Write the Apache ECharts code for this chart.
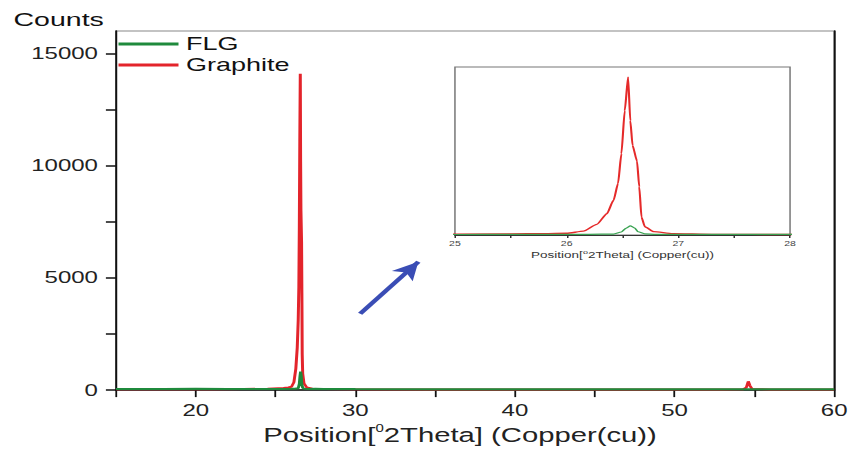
<!DOCTYPE html>
<html>
<head>
<meta charset="utf-8">
<script src="https://cdn.jsdelivr.net/npm/echarts@6/dist/echarts.min.js"></script>
<style>
  html, body { margin: 0; padding: 0; background: #fff; overflow: hidden; }
  /* the figure is drawn at 568px wide and widened 1.5x, giving 852px */
  #chart { width: 568px; height: 450px; transform: scaleX(1.5); transform-origin: 0 0; }
</style>
</head>
<body>
<div id="chart"></div>
<script>
// XRD scan: 2θ positions (degrees) and intensities (counts)
const graphiteTheta = [15, 17, 19, 21, 23, 24.5, 25.5, 25.8, 26.0, 26.15, 26.27, 26.36, 26.42, 26.46, 26.49, 26.52, 26.55, 26.57, 26.59, 26.63, 26.65, 26.67, 26.70, 26.78, 26.95, 27.3, 28, 30, 35, 40, 45, 50, 53, 54.3, 54.5, 54.62, 54.72, 54.85, 56, 60];
const graphiteCounts = [40, 35, 45, 40, 50, 60, 90, 120, 150, 350, 950, 1900, 3100, 4600, 7250, 11100, 14100, 10200, 8000, 6600, 4300, 1600, 740, 300, 120, 60, 45, 35, 30, 30, 25, 25, 30, 40, 120, 390, 200, 50, 25, 25];

const flgTheta = [15, 18, 20, 22, 24, 25, 25.5, 26.0, 26.2, 26.42, 26.49, 26.53, 26.57, 26.61, 26.64, 26.70, 26.8, 27.0, 27.5, 28, 30, 35, 40, 45, 50, 55, 60];
const flgCounts = [50, 45, 55, 45, 50, 45, 50, 55, 60, 80, 270, 600, 820, 620, 290, 100, 60, 50, 55, 50, 45, 40, 40, 35, 35, 35, 35];

// Tick positions and labels
const mainXTicks = [15, 20, 25, 30, 35, 40, 45, 50, 55, 60];
const mainXLabels = [20, 30, 40, 50, 60];
const mainYTicks = [0, 2500, 5000, 7500, 10000, 12500, 15000];
const mainYLabels = [0, 5000, 10000, 15000];
const insetXTicks = [25, 25.5, 26, 26.5, 27, 27.5, 28];
const insetXLabels = [25, 26, 27, 28];

const pairs = (xs, ys) => xs.map((x, i) => [x, ys[i]]);
const graphiteData = pairs(graphiteTheta, graphiteCounts);
const flgData = pairs(flgTheta, flgCounts);

const FONT = 'Liberation Sans, Arial, sans-serif';
const RED = '#e3242b';
const GREEN = '#1f8a3c';

const chart = echarts.init(document.getElementById('chart'), null, { renderer: 'svg', width: 568, height: 450 });

chart.setOption({
  animation: false,
  backgroundColor: '#ffffff',
  textStyle: { fontFamily: FONT },
  title: {
    text: 'Counts',
    left: 4, top: 5,
    textStyle: { fontFamily: FONT, fontSize: 19, fontWeight: 'normal', color: '#111' }
  },
  legend: {
    data: ['FLG', 'Graphite'],
    orient: 'vertical',
    left: 74, top: 30,
    icon: 'rect',
    itemWidth: 40, itemHeight: 3,
    itemGap: 3,
    textStyle: { fontFamily: FONT, fontSize: 18, color: '#111' }
  },
  grid: [
    { left: 77.3, right: 10, top: 31, bottom: 54, show: true, borderColor: '#888', borderWidth: 1 },
    { left: 303.3, right: 41.3, top: 67, bottom: 215, show: true, borderColor: '#777', borderWidth: 1, backgroundColor: '#fff', z: 5 }
  ],
  xAxis: [
    {
      gridIndex: 0, type: 'value', min: 15, max: 60,
      axisLine: { show: true, onZero: false, lineStyle: { color: '#111', width: 1.5 } },
      axisTick: { show: true, customValues: mainXTicks, length: 7, lineStyle: { color: '#111', width: 1.2 } },
      axisLabel: { customValues: mainXLabels, fontSize: 16, color: '#222', margin: 12, fontFamily: FONT },
      splitLine: { show: false },
      name: '{a|Position[}{s|0}{a|2Theta] (Copper(cu))}',
      nameLocation: 'middle', nameGap: 31,
      nameTextStyle: {
        padding: [0, 20, 0, 0],
        rich: {
          a: { fontSize: 19.5, color: '#222', fontFamily: FONT, lineHeight: 24 },
          s: { fontSize: 10, color: '#222', fontFamily: FONT, lineHeight: 14, verticalAlign: 'top' }
        }
      }
    },
    {
      gridIndex: 1, type: 'value', min: 25, max: 28,
      axisLine: { show: true, onZero: false, lineStyle: { color: '#333', width: 1 } },
      axisTick: { show: true, customValues: insetXTicks, length: 3, lineStyle: { color: '#333' } },
      axisLabel: { customValues: insetXLabels, fontSize: 7, color: '#444', margin: 5, fontFamily: FONT },
      splitLine: { show: false },
      name: '{a|Position[}{s|o}{a|2Theta] (Copper(cu))}',
      nameLocation: 'middle', nameGap: 14,
      nameTextStyle: {
        rich: {
          a: { fontSize: 9, color: '#333', fontFamily: FONT, lineHeight: 11 },
          s: { fontSize: 6, color: '#333', fontFamily: FONT, lineHeight: 7, verticalAlign: 'top' }
        }
      },
      z: 6
    }
  ],
  yAxis: [
    {
      gridIndex: 0, type: 'value', min: 0, max: 16000,
      axisLine: { show: true, onZero: false, lineStyle: { color: '#111', width: 1.3 } },
      axisTick: { show: true, customValues: mainYTicks, length: 6.7, lineStyle: { color: '#111', width: 1.5 } },
      axisLabel: { customValues: mainYLabels, formatter: v => String(v), fontSize: 16, color: '#222', margin: 12, fontFamily: FONT },
      splitLine: { show: false }
    },
    {
      gridIndex: 0, type: 'value', min: 0, max: 16000, position: 'right',
      axisLine: { show: true, onZero: false, lineStyle: { color: '#111', width: 1.3 } },
      axisTick: { show: false }, axisLabel: { show: false }, splitLine: { show: false }
    },
    {
      gridIndex: 1, type: 'value', min: 0, max: 15000,
      axisLine: { show: false }, axisTick: { show: false }, axisLabel: { show: false },
      splitLine: { show: false }, z: 6
    }
  ],
  series: [
    {
      name: 'Graphite', type: 'line', xAxisIndex: 0, yAxisIndex: 0,
      data: graphiteData, showSymbol: false, symbol: 'none', z: 2,
      lineStyle: { color: RED, width: 2 }, itemStyle: { color: RED }
    },
    {
      name: 'FLG', type: 'line', xAxisIndex: 0, yAxisIndex: 0,
      data: flgData, showSymbol: false, symbol: 'none', z: 3,
      lineStyle: { color: GREEN, width: 2 }, itemStyle: { color: GREEN },
      markLine: {
        silent: true,
        symbol: ['none', 'arrow'],
        symbolSize: [13, 18],
        label: { show: false },
        lineStyle: { color: '#3a4db5', width: 3.5, type: 'solid' },
        data: [[{ coord: [30.3, 3400] }, { coord: [33.95, 5720] }]]
      }
    },
    {
      name: 'Graphite (25–28°)', type: 'line', xAxisIndex: 1, yAxisIndex: 2,
      data: graphiteData, showSymbol: false, symbol: 'none', z: 7, clip: true,
      smooth: 0.2, smoothMonotone: 'x',
      lineStyle: { color: '#e52a2a', width: 1.4 }
    },
    {
      name: 'FLG (25–28°)', type: 'line', xAxisIndex: 1, yAxisIndex: 2,
      data: flgData, showSymbol: false, symbol: 'none', z: 8, clip: true,
      smooth: 0.2, smoothMonotone: 'x',
      lineStyle: { color: '#3aa352', width: 1.2 }
    }
  ]
});
</script>
</body>
</html>
